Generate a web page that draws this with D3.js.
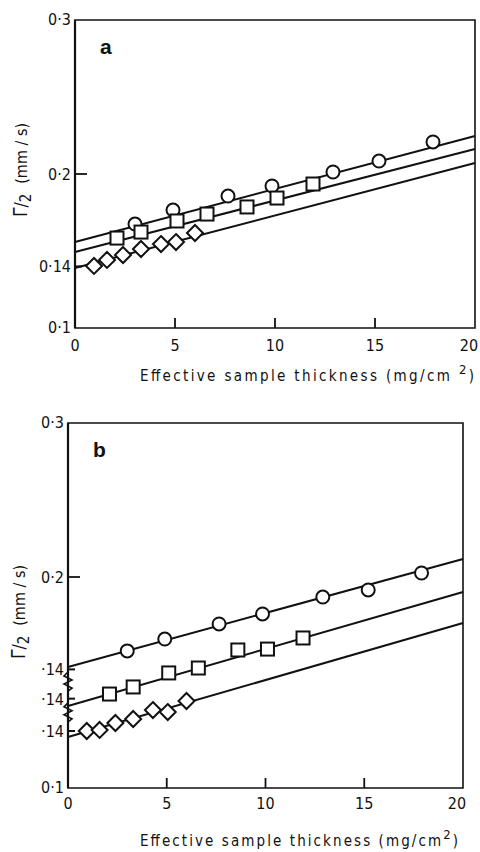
<!DOCTYPE html>
<html>
<head>
<meta charset="utf-8">
<script src="https://cdn.jsdelivr.net/npm/d3@7"></script>
<style>
body { margin: 0; background: #fff; }
text { font-family: "Liberation Sans Narrow", "DejaVu Sans Condensed", "Liberation Sans", sans-serif; fill: #111; }
</style>
</head>
<body>
<script>
// thickness values (mg/cm2) shared by both panels
var xCircle  = [3.0, 4.9, 7.65, 9.85, 12.9, 15.2, 17.9]
var xSquare  = [2.1, 3.3, 5.1, 6.6, 8.6, 10.1, 11.9]
var xDiamond = [0.95, 1.6, 2.4, 3.3, 4.3, 5.05, 6.0]

// panel a linewidths (mm/s)
var aCircle  = [0.1675, 0.1766, 0.1857, 0.1922, 0.2013, 0.2084, 0.2208]
var aSquare  = [0.1584, 0.1623, 0.1695, 0.1740, 0.1786, 0.1844, 0.1935]
var aDiamond = [0.1403, 0.1442, 0.1474, 0.1513, 0.1545, 0.1558, 0.1617]
// fitted lines, value at x=0 and at x=20
var aFits = [[0.1558, 0.2247], [0.1494, 0.2162], [0.1390, 0.2071]]

// panel b linewidths (mm/s)
var bCircle  = [0.1520, 0.1597, 0.1695, 0.1760, 0.1870, 0.1916, 0.2026]
var bSquare  = [0.1430, 0.1476, 0.1567, 0.1599, 0.1716, 0.1722, 0.1794]
var bDiamond = [0.1400, 0.1407, 0.1452, 0.1478, 0.1536, 0.1523, 0.1595]
var bFits = [[0.1416, 0.2117], [0.1352, 0.2093], [0.1361, 0.2101]]
// broken axis: each series in b is shifted down by this amount
var bShift = [0, 0.019, 0.040]

var xTicks = [0, 5, 10, 15, 20]

var wd = 480, ht = 852
var svg = d3.select("body").append("svg").attr("width", wd).attr("height", ht)

function drawPanel(p) {
  var x = d3.scaleLinear().domain([0, 20]).range([p.left, p.right])
  var y = d3.scaleLinear().domain([0.1, 0.3]).range([p.top + 308, p.top])
  var g = svg.append("g")

  // frame
  g.append("path")
  .attr("d", "M" + p.left + "," + p.top + "H" + p.right + "V" + p.bottom + "H" + p.left + "Z")
  .attr("fill", "none").attr("stroke", "#111").attr("stroke-width", 1.6)
  g.append("line").attr("x1", p.left).attr("x2", p.left).attr("y1", p.top).attr("y2", p.bottom)
  .attr("stroke", "#111").attr("stroke-width", 2.2)

  // bottom ticks
  g.selectAll(".xt").data(xTicks.slice(1, 4)).enter().append("line")
  .attr("x1", function(d) { return x(d) }).attr("x2", function(d) { return x(d) })
  .attr("y1", p.bottom).attr("y2", p.bottom - 10)
  .attr("stroke", "#111").attr("stroke-width", 1.8)
  g.selectAll(".xl").data(xTicks).enter().append("text")
  .attr("x", function(d) { return d == 20 ? x(d) - 6 : x(d) }).attr("y", p.bottom + p.xlab)
  .attr("text-anchor", "middle").style("font-size", "16px")
  .text(function(d) { return d })

  // x title
  var tt = g.append("text").attr("x", p.titleX).attr("y", p.bottom + p.xtitle)
  .style("font-size", "15px").attr("textLength", p.titleLen).attr("lengthAdjust", "spacing")
  tt.append("tspan").text("Effective  sample  thickness (mg/cm" + p.gap)
  tt.append("tspan").attr("baseline-shift", "super").style("font-size", "13px").text("2")
  tt.append("tspan").attr("baseline-shift", "0").text(")")

  // y title
  var yt = g.append("text")
  .attr("transform", "translate(" + p.ytitleX + "," + p.ytitleY + ") rotate(-90)")
  .attr("text-anchor", "middle").style("font-size", "16px")
  yt.append("tspan").style("font-size", "19px").text("\u0393")
  yt.append("tspan").style("font-size", "17px").text("/")
  yt.append("tspan").attr("dy", 4).style("font-size", "15px").text("2")
  yt.append("tspan").attr("dy", -4).attr("dx", 10).text("(mm / s)")

  // y labels
  g.append("text").attr("x", p.left - 4).attr("y", y(0.3) + 5).attr("text-anchor", "end")
  .style("font-size", "16px").text("0\u00b73")
  g.append("text").attr("x", p.left - 4).attr("y", y(0.2) + 6).attr("text-anchor", "end")
  .style("font-size", "16px").text("0\u00b72")
  g.append("text").attr("x", p.left - 4).attr("y", p.bottom + 5).attr("text-anchor", "end")
  .style("font-size", "16px").text("0\u00b71")
  g.append("line").attr("x1", p.left).attr("x2", p.left + 12).attr("y1", y(0.2)).attr("y2", y(0.2))
  .attr("stroke", "#111").attr("stroke-width", 1.8)

  p.shift.forEach(function(s, i) {
    var yy = y(0.14 - s)
    g.append("text").attr("x", p.left - 4).attr("y", yy + 6).attr("text-anchor", "end")
    .style("font-size", "16px").text(p.midLabel)
    g.append("line").attr("x1", p.left).attr("x2", p.left + 7).attr("y1", yy).attr("y2", yy)
    .attr("stroke", "#111").attr("stroke-width", 2)
  })

  // axis breaks between the shifted series
  for (var i = 1; i < p.shift.length; i++) {
    var y0 = (y(0.14 - p.shift[i - 1]) + y(0.14 - p.shift[i])) / 2 - 8
    g.append("path")
    .attr("d", "M" + p.left + "," + (y0 - 4) + "l-4,4l8,4l-8,4l8,4l-4,3")
    .attr("fill", "none").attr("stroke", "#111").attr("stroke-width", 1.6)
  }

  // panel letter
  g.append("text").attr("x", p.left + 25).attr("y", p.top + 34)
  .style("font-size", "21px").style("font-weight", "bold")
  .style("font-family", "'Liberation Sans', Arial, sans-serif").text(p.letter)

  // fitted lines
  p.fits.forEach(function(f, i) {
    var s = p.shift[i] || 0
    g.append("line")
    .attr("x1", x(0)).attr("y1", y(f[0] - s))
    .attr("x2", x(20)).attr("y2", y(f[1] - s))
    .attr("stroke", "#111").attr("stroke-width", 2)
  })

  // markers
  var sets = [
    {xs: xCircle, ys: p.circle, s: p.shift[0] || 0, k: "c"},
    {xs: xSquare, ys: p.square, s: p.shift[1] || 0, k: "s"},
    {xs: xDiamond, ys: p.diamond, s: p.shift[2] || 0, k: "d"}
  ]
  sets.forEach(function(st) {
    var pts = st.xs.map(function(v, i) { return [x(v), y(st.ys[i] - st.s)] })
    var sel = g.selectAll(".m" + st.k).data(pts).enter()
    if (st.k == "c") {
      sel.append("circle").attr("cx", function(d) { return d[0] }).attr("cy", function(d) { return d[1] })
      .attr("r", 6.5)
      .attr("fill", "#fff").attr("stroke", "#111").attr("stroke-width", 2)
    } else if (st.k == "s") {
      sel.append("rect").attr("x", function(d) { return d[0] - 6.5 }).attr("y", function(d) { return d[1] - 6.5 })
      .attr("width", 13).attr("height", 13)
      .attr("fill", "#fff").attr("stroke", "#111").attr("stroke-width", 2)
    } else {
      sel.append("path").attr("d", function(d) {
        return "M" + d[0] + "," + (d[1] - 8) + "l8,8l-8,8l-8,-8z"
      })
      .attr("fill", "#fff").attr("stroke", "#111").attr("stroke-width", 2)
    }
  })
}

drawPanel({
  letter: "a", left: 75, right: 475, top: 20, bottom: 328,
  circle: aCircle, square: aSquare, diamond: aDiamond, fits: aFits, shift: [0],
  midLabel: "0\u00b714", xlab: 23, xtitle: 53, titleX: 140, titleLen: 334, gap: " ",
  ytitleX: 27, ytitleY: 170
})

drawPanel({
  letter: "b", left: 68, right: 463, top: 423, bottom: 788,
  circle: bCircle, square: bSquare, diamond: bDiamond, fits: bFits, shift: bShift,
  midLabel: "\u00b714", xlab: 21, xtitle: 58, titleX: 140, titleLen: 318, gap: "",
  ytitleX: 25, ytitleY: 612
})
</script>
</body>
</html>
